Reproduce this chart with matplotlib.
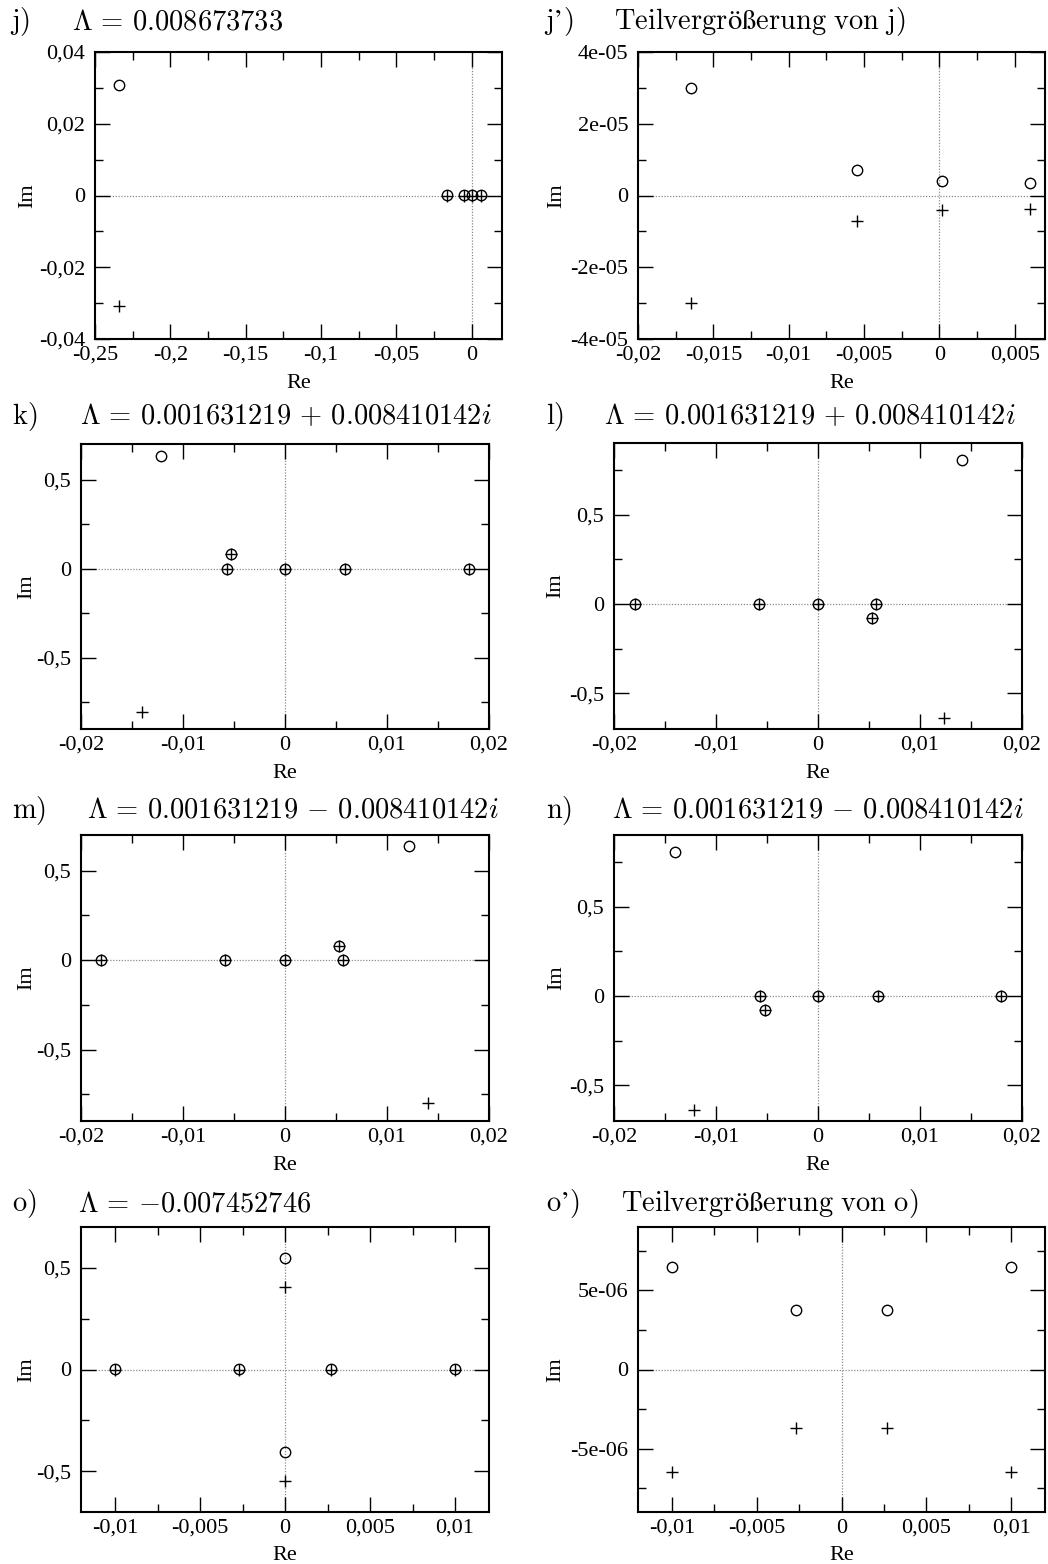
import matplotlib
matplotlib.use("Agg")
import matplotlib.pyplot as plt
from matplotlib.ticker import MultipleLocator

plt.rcParams['mathtext.fontset'] = 'cm'

# Roots in the complex plane: circles (o) and pluses (+)
j_circ_re = [-0.2338, -0.0165, -0.0055, 0.0002, 0.0060]
j_circ_im = [0.0308, 3.0e-5, 0.70e-5, 0.40e-5, 0.36e-5]
j_plus_re = [-0.2338, -0.0165, -0.0055, 0.0002, 0.0060]
j_plus_im = [-0.0308, -3.0e-5, -0.70e-5, -0.40e-5, -0.37e-5]

k_circ_re = [-0.0122, -0.00565, -0.0053, 0.0, 0.0059, 0.0180]
k_circ_im = [0.634, 0.0, 0.080, 0.0, 0.0, 0.0]
k_plus_re = [-0.0140, -0.00565, -0.0053, 0.0, 0.0059, 0.0180]
k_plus_im = [-0.806, 0.0, 0.080, 0.0, 0.0, 0.0]

l_circ_re = [0.0141, -0.0179, -0.0058, 0.0, 0.0057, 0.0053]
l_circ_im = [0.806, 0.0, 0.0, 0.0, 0.0, -0.078]
l_plus_re = [0.0124, -0.0179, -0.0058, 0.0, 0.0057, 0.0053]
l_plus_im = [-0.636, 0.0, 0.0, 0.0, 0.0, -0.078]

m_circ_re = [0.0122, -0.0180, -0.0059, 0.0, 0.00565, 0.0053]
m_circ_im = [0.636, 0.0, 0.0, 0.0, 0.0, 0.080]
m_plus_re = [0.0140, -0.0180, -0.0059, 0.0, 0.00565, 0.0053]
m_plus_im = [-0.800, 0.0, 0.0, 0.0, 0.0, 0.080]

n_circ_re = [-0.0140, -0.00565, -0.0052, 0.0, 0.0059, 0.0179]
n_circ_im = [0.806, 0.0, -0.080, 0.0, 0.0, 0.0]
n_plus_re = [-0.0122, -0.00565, -0.0052, 0.0, 0.0059, 0.0179]
n_plus_im = [-0.636, 0.0, -0.080, 0.0, 0.0, 0.0]

o_circ_re = [0.0, 0.0, -0.0100, -0.0027, 0.0027, 0.0100]
o_circ_im = [0.549, -0.405, 6.5e-6, 3.74e-6, 3.74e-6, 6.5e-6]
o_plus_re = [0.0, 0.0, -0.0100, -0.0027, 0.0027, 0.0100]
o_plus_im = [0.405, -0.549, -6.5e-6, -3.72e-6, -3.72e-6, -6.5e-6]

# tick values / labels
j_xt = [-0.25, -0.2, -0.15, -0.1, -0.05, 0.0]
j_xtl = ['-0,25', '-0,2', '-0,15', '-0,1', '-0,05', '0']
j_yt = [-0.04, -0.02, 0.0, 0.02, 0.04]
j_ytl = ['-0,04', '-0,02', '0', '0,02', '0,04']

jz_xt = [-0.02, -0.015, -0.01, -0.005, 0.0, 0.005]
jz_xtl = ['-0,02', '-0,015', '-0,01', '-0,005', '0', '0,005']
jz_yt = [-4e-5, -2e-5, 0.0, 2e-5, 4e-5]
jz_ytl = ['-4e-05', '-2e-05', '0', '2e-05', '4e-05']

kn_xt = [-0.02, -0.01, 0.0, 0.01, 0.02]
kn_xtl = ['-0,02', '-0,01', '0', '0,01', '0,02']
half_yt = [-0.5, 0.0, 0.5]
half_ytl = ['-0,5', '0', '0,5']

o_xt = [-0.01, -0.005, 0.0, 0.005, 0.01]
o_xtl = ['-0,01', '-0,005', '0', '0,005', '0,01']
oz_yt = [-5e-6, 0.0, 5e-6]
oz_ytl = ['-5e-06', '0', '5e-06']

W, H = 1048, 1564
fig = plt.figure(figsize=(W / 100, H / 100), dpi=100)
TICKFONT = dict(family='Liberation Serif', size=16)


def add_panel(box, cre, cim, pre, pim, xlim, ylim, xt, xtl, yt, ytl,
              xminor, yminor, im_x):
    x0, y0, x1, y1 = box
    ax = fig.add_axes([x0 / W, 1 - y1 / H, (x1 - x0) / W, (y1 - y0) / H])
    ax.axhline(0, color='#8a8a8a', lw=0.9, ls=(0, (1, 1.3)), zorder=1)
    ax.axvline(0, color='#8a8a8a', lw=0.9, ls=(0, (1, 1.3)), zorder=1)
    ax.plot(cre, cim, 'o', ms=7.5, mfc='none', mec='black', mew=1.0,
            ls='none', zorder=3, clip_on=False)
    ax.plot(pre, pim, '+', ms=9, mec='black', mew=1.0, ls='none', zorder=3)
    ax.set_xlim(xlim)
    ax.set_ylim(ylim)
    ax.set_xticks(xt)
    ax.set_xticklabels(xtl, fontdict=TICKFONT)
    ax.set_yticks(yt)
    ax.set_yticklabels(ytl, fontdict=TICKFONT)
    ax.xaxis.set_minor_locator(MultipleLocator(xminor))
    ax.yaxis.set_minor_locator(MultipleLocator(yminor))
    ax.tick_params(which='both', direction='in', top=True, right=True,
                   width=1.0, color='black')
    ax.tick_params(which='major', length=11)
    ax.tick_params(which='minor', length=5.5)
    ax.tick_params(axis='y', pad=7)
    ax.tick_params(axis='x', pad=5)
    for s in ax.spines.values():
        s.set_linewidth(1.5)
    fig.text((x0 + x1) / 2 / W, 1 - (y1 + 44) / H, 'Re', ha='center',
             va='center', **TICKFONT)
    fig.text(im_x / W, 1 - (y0 + y1) / 2 / H, 'Im', rotation=90,
             ha='center', va='center', **TICKFONT)
    return ax


def add_title(prefix, body, x_pre, x_body, base):
    fig.text(x_pre / W, 1 - base / H, prefix, ha='left', va='baseline',
             size=20.5)
    fig.text(x_body / W, 1 - base / H, body, ha='left', va='baseline',
             size=20.5)


# j)
add_panel((95, 52, 502, 339), j_circ_re, j_circ_im, j_plus_re, j_plus_im,
          (-0.25, 0.02), (-0.04, 0.04), j_xt, j_xtl, j_yt, j_ytl,
          0.025, 0.01, 28)
add_title(r'$\mathrm{j)}$', r'$\Lambda\,=\,0.008673733$', 10, 72, 29)

# j')
add_panel((638, 52, 1045, 339), j_circ_re, j_circ_im, j_plus_re, j_plus_im,
          (-0.02, 0.007), (-4e-5, 4e-5), jz_xt, jz_xtl, jz_yt, jz_ytl,
          0.0025, 1e-5, 557)
add_title('$\\mathrm{j\u2019)}$', r'$\mathrm{Teilvergrößerung\ von\ j)}$',
          544, 614, 29)

# k)
add_panel((81, 444, 489, 729), k_circ_re, k_circ_im, k_plus_re, k_plus_im,
          (-0.02, 0.02), (-0.9, 0.7), kn_xt, kn_xtl, half_yt, half_ytl,
          0.005, 0.25, 27)
add_title(r'$\mathrm{k)}$',
          r'$\Lambda\,=\,0.001631219\,+\,0.008410142i$', 12, 80, 424)

# l)
add_panel((614, 443, 1022, 729), l_circ_re, l_circ_im, l_plus_re, l_plus_im,
          (-0.02, 0.02), (-0.7, 0.9), kn_xt, kn_xtl, half_yt, half_ytl,
          0.005, 0.25, 556)
add_title(r'$\mathrm{l)}$',
          r'$\Lambda\,=\,0.001631219\,+\,0.008410142i$', 546, 604, 424)

# m)
add_panel((81, 835, 489, 1121), m_circ_re, m_circ_im, m_plus_re, m_plus_im,
          (-0.02, 0.02), (-0.9, 0.7), kn_xt, kn_xtl, half_yt, half_ytl,
          0.005, 0.25, 27)
add_title(r'$\mathrm{m)}$',
          r'$\Lambda\,=\,0.001631219\,-\,0.008410142i$', 12, 87, 818)

# n)
add_panel((614, 835, 1022, 1121), n_circ_re, n_circ_im, n_plus_re, n_plus_im,
          (-0.02, 0.02), (-0.7, 0.9), kn_xt, kn_xtl, half_yt, half_ytl,
          0.005, 0.25, 557)
add_title(r'$\mathrm{n)}$',
          r'$\Lambda\,=\,0.001631219\,-\,0.008410142i$', 546, 612, 818)

# o)
add_panel((81, 1227, 489, 1512), o_circ_re, o_circ_im, o_plus_re, o_plus_im,
          (-0.012, 0.012), (-0.7, 0.7), o_xt, o_xtl, half_yt, half_ytl,
          0.0025, 0.25, 27)
add_title(r'$\mathrm{o)}$', r'$\Lambda\,=\,{-}0.007452746$', 12, 78, 1211)

# o')
add_panel((638, 1227, 1045, 1512), o_circ_re, o_circ_im, o_plus_re, o_plus_im,
          (-0.012, 0.012), (-9e-6, 9e-6), o_xt, o_xtl, oz_yt, oz_ytl,
          0.0025, 2.5e-6, 556)
add_title('$\\mathrm{o\u2019)}$', r'$\mathrm{Teilvergrößerung\ von\ o)}$',
          546, 621, 1211)

fig.savefig('out.png', dpi=100)
